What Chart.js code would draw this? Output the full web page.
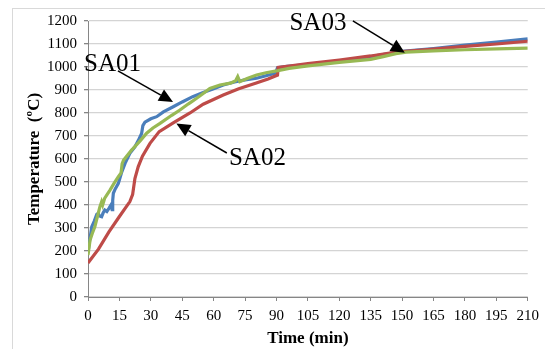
<!DOCTYPE html>
<html>
<head>
<meta charset="utf-8">
<script src="https://cdn.jsdelivr.net/npm/chart.js@4/dist/chart.umd.min.js"></script>
<style>
  html, body { margin: 0; padding: 0; background: #fff; }
  #wrap { position: relative; width: 545px; height: 349px; overflow: hidden; }
  #frame { position: absolute; left: 12px; top: 8px; width: 600px; height: 400px;
           border-top: 1px solid #d9d9d9; border-left: 1px solid #d9d9d9; }
  canvas { position: absolute; left: 0; top: 0; }
</style>
</head>
<body>
<div id="wrap">
  <div id="frame"></div>
  <canvas id="fireChart" width="545" height="349"></canvas>
</div>
<script>
// SA01 (blue)
const sa01Time = [0, 0.5, 1, 1.8, 3, 4.2, 4.9, 5.5, 6.5, 7.2, 8, 9, 10, 11, 11.5, 11.8, 12.1, 13, 14.5, 16, 17.7, 20, 22.4, 24, 25.6, 26.2, 27.2, 30, 32.8, 36, 40.7, 45, 50, 55, 60, 64.6, 70, 75, 80.5, 85, 89.5, 90.5, 95, 105, 120, 135, 150, 165, 180, 195, 210];
const sa01Temp = [191, 230, 257, 306, 330, 360, 364, 352, 349, 365, 378, 372, 385, 400, 380, 420, 451, 470, 494, 540, 581, 625, 653, 680, 711, 745, 760, 775, 784, 805, 827, 848, 871, 889, 905, 922, 935, 944, 951, 962, 973, 997, 1003, 1010, 1025, 1045, 1068, 1080, 1095, 1108, 1122];

// SA02 (red)
const sa02Time = [0, 5, 10, 15, 20, 21.3, 22.4, 24, 26, 29.6, 34, 40.7, 48.7, 55, 64.6, 72, 80, 86, 90.5, 90.8, 96, 105, 120, 135, 147, 165, 180, 195, 210];
const sa02Temp = [148, 208, 283, 350, 415, 445, 515, 567, 612, 668, 719, 757, 800, 838, 878, 905, 929, 948, 965, 998, 1004, 1015, 1030, 1048, 1065, 1078, 1090, 1100, 1112];

// SA03 (green)
const sa03Time = [0, 0.5, 1, 2, 3.3, 4.5, 5.7, 6.5, 7, 8, 10.5, 12.5, 14.5, 15.8, 16.3, 17, 20.8, 21.6, 25, 28, 31, 34.4, 40, 43.9, 48, 51.9, 55, 58.2, 63, 68, 70.5, 71.5, 72.5, 76, 80.5, 85, 90.7, 96, 105, 120, 135, 141, 147, 152, 165, 180, 195, 210];
const sa03Temp = [183, 215, 248, 275, 306, 350, 393, 414, 400, 430, 465, 495, 523, 540, 580, 595, 639, 646, 680, 712, 735, 755, 790, 813, 840, 864, 885, 907, 922, 930, 940, 958, 936, 950, 965, 975, 984, 994, 1005, 1020, 1033, 1045, 1058, 1065, 1070, 1075, 1079, 1082];

// callouts, in data units (time, temperature)
const calloutLabels = ["SA01", "SA02", "SA03"];
const calloutText = [[11.7, 1009], [80.9, 604], [109.8, 1191]];
const calloutTail = [[14.3, 983], [66.3, 626], [126.5, 1201]];
const calloutTip = [[40.6, 848], [42.2, 754], [151.3, 1062]];

const toPoints = (xs, ys) => xs.map((x, i) => ({ x, y: ys[i] }));

const calloutPlugin = {
  id: "callouts",
  afterDatasetsDraw(chart) {
    const { ctx, scales: { x, y } } = chart;
    ctx.save();
    ctx.strokeStyle = "#000";
    ctx.fillStyle = "#000";
    ctx.lineWidth = 1.5;
    calloutLabels.forEach((label, i) => {
      const x0 = x.getPixelForValue(calloutTail[i][0]);
      const y0 = y.getPixelForValue(calloutTail[i][1]);
      const x1 = x.getPixelForValue(calloutTip[i][0]);
      const y1 = y.getPixelForValue(calloutTip[i][1]);
      const ang = Math.atan2(y1 - y0, x1 - x0);
      const len = 14, half = 6.5;
      const bx = x1 - len * Math.cos(ang);
      const by = y1 - len * Math.sin(ang);
      ctx.beginPath();
      ctx.moveTo(x0, y0);
      ctx.lineTo(bx, by);
      ctx.stroke();
      ctx.beginPath();
      ctx.moveTo(x1, y1);
      ctx.lineTo(bx + half * Math.sin(ang), by - half * Math.cos(ang));
      ctx.lineTo(bx - half * Math.sin(ang), by + half * Math.cos(ang));
      ctx.closePath();
      ctx.fill();

      ctx.font = '25px "Liberation Serif"';
      ctx.textAlign = "center";
      ctx.textBaseline = "middle";
      ctx.fillText(label, x.getPixelForValue(calloutText[i][0]), y.getPixelForValue(calloutText[i][1]));
    });
    ctx.restore();
  }
};

const tickFont = { family: "Liberation Serif", size: 15 };
const titleFont = { family: "Liberation Serif", size: 17, weight: "bold" };

new Chart(document.getElementById("fireChart"), {
  type: "line",
  data: {
    datasets: [
      { label: "SA01", data: toPoints(sa01Time, sa01Temp), borderColor: "#4a7ebb", order: 3 },
      { label: "SA02", data: toPoints(sa02Time, sa02Temp), borderColor: "#be4b48", order: 2 },
      { label: "SA03", data: toPoints(sa03Time, sa03Temp), borderColor: "#98b954", order: 1 },
    ],
  },
  options: {
    responsive: false,
    animation: false,
    devicePixelRatio: 1,
    layout: { padding: { left: 0, top: 21, right: 17, bottom: 0 } },
    elements: {
      line: { borderWidth: 3.2, tension: 0, fill: false },
      point: { radius: 0 },
    },
    plugins: { legend: { display: false }, tooltip: { enabled: false } },
    scales: {
      x: {
        type: "linear",
        min: 0,
        max: 210,
        afterFit: (s) => { s.height = 52; },
        ticks: { stepSize: 15, color: "#000", font: tickFont, padding: 6, maxRotation: 0 },
        grid: { drawOnChartArea: false, tickLength: 4, tickColor: "#868686" },
        border: { color: "#868686" },
        title: { display: true, text: "Time (min)", color: "#000", font: titleFont, padding: { top: 0, bottom: 0 } },
      },
      y: {
        min: 0,
        max: 1200,
        afterFit: (s) => { s.width = 88; },
        ticks: {
          stepSize: 50,
          color: "#000",
          font: tickFont,
          padding: 7,
          callback: (v) => (v % 100 === 0 ? v : ""),
        },
        grid: {
          color: (c) => (c.tick && c.tick.value % 100 === 0 ? "#d4d4d4" : "rgba(0,0,0,0)"),
          lineWidth: 1.3,
          tickLength: 4,
          tickColor: "#868686",
        },
        border: { color: "#868686" },
        title: { display: true, text: "Temperature  (ºC)", color: "#000", font: titleFont, padding: { top: 24, bottom: 0 } },
      },
    },
  },
  plugins: [calloutPlugin],
});
</script>
</body>
</html>
